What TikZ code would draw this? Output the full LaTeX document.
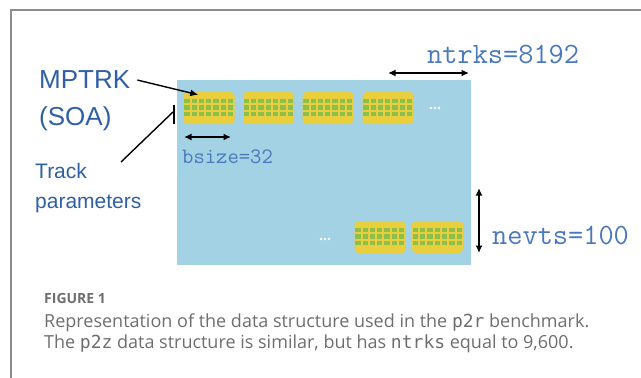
\documentclass[tikz,border=0pt]{standalone}
\usepackage{fontspec}
\setmainfont{Open Sans}
\newfontfamily\labelfont{Liberation Sans}
\newfontfamily\codefont{Latin Modern Mono}
\newfontfamily\capmono{DejaVu Sans Mono}
\usetikzlibrary{arrows.meta,calc}

\definecolor{framegray}{HTML}{8C8C8C}
\definecolor{panelblue}{HTML}{A2D2E4}
\definecolor{blkyellow}{HTML}{E9CE3E}
\definecolor{cellgreen}{HTML}{8DC04B}
\definecolor{labelblue}{HTML}{2F5FA6}
\definecolor{codeblue}{HTML}{4A78BE}
\definecolor{captiongray}{HTML}{6E6E6E}

\tikzset{
  blk/.style={fill=blkyellow, rounded corners=4pt, minimum width=51pt,
    minimum height=32pt, inner sep=0pt, draw=none},
  cell/.style={fill=cellgreen, draw=none},
  dimarrow/.style={draw=black, line width=1.6pt,
    {Latex[length=7.5pt,width=7pt]}-{Latex[length=7.5pt,width=7pt]}},
  ptr/.style={draw=black, line width=1.4pt},
  lbl/.style={text=labelblue, inner sep=0pt},
  code/.style={text=codeblue, inner sep=0pt},
  captxt/.style={anchor=base west, inner sep=0pt, text=captiongray},
  dotnode/.style={inner sep=0pt, minimum size=0pt},
}

% 3 x 7 grid of track-parameter cells inside a block
\newcommand\blockcells[1]{%
  \foreach \r in {0,1,2}
    \foreach \c in {0,...,6}
      \path[cell] ($(#1.north west)+(\c*7.3+0.9, 7+\r*6.6)$) rectangle ++(5.3,4.2);}

\begin{document}
\begin{tikzpicture}[x=1pt, y=-1pt]
  \useasboundingbox (0,0) rectangle (641,378);

  % outer frame (top and left rules)
  \draw[framegray, line width=2pt] (11,378) -- (11,10) -- (641,10);

  % the event/track panel
  \fill[panelblue] (177,80) rectangle (471,265);

  % MPTRK blocks: first row and last row
  \node[blk] (b1) at (209,108) {};
  \node[blk] (b2) at (268.5,108) {};
  \node[blk] (b3) at (328,108) {};
  \node[blk] (b4) at (388,108) {};
  \node[blk] (b5) at (380,237) {};
  \node[blk] (b6) at (437.5,237) {};
  \foreach \b in {b1,b2,b3,b4,b5,b6} {\blockcells{\b}}

  % ellipses
  \node[dotnode] (dtop) at (435,108) {};
  \node[dotnode] (dbot) at (325,239) {};
  \foreach \d in {-4,0,4} {
    \fill[white] ($(dtop)+(\d,0)$) circle (1.3);
    \fill[white] ($(dbot)+(\d,0)$) circle (1.3);
  }

  % labels
  \node[lbl, font=\labelfont\fontsize{26}{26}\selectfont, anchor=base west] (mptrk) at (39,88) {MPTRK};
  \node[lbl, font=\labelfont\fontsize{26}{26}\selectfont, anchor=base west] (soa) at (39,125) {(SOA)};
  \node[lbl, font=\labelfont\fontsize{21}{21}\selectfont, anchor=base west] (track) at (35,178) {Track};
  \node[lbl, font=\labelfont\fontsize{21}{21}\selectfont, anchor=base west] (params) at (35,208) {parameters};

  \node[code, font=\codefont\fontsize{29.5}{29.5}\selectfont, anchor=base west] (ntrks) at (427,63) {ntrks=8192};
  \node[code, font=\codefont\fontsize{22}{22}\selectfont, anchor=base west] (bsize) at (182,163) {bsize=32};
  \node[code, font=\codefont\fontsize{29.5}{29.5}\selectfont, anchor=base west] (nevts) at (492,244) {nevts=100};

  % pointers from the labels
  \coordinate (mtip) at ($(b1.north west)+(15,3)$);
  \draw[ptr, -{Latex[length=8pt,width=7pt]}] ($(mptrk.east)+(7,1)$) -- (mtip);
  \coordinate (bartop) at (174,105);
  \coordinate (barbot) at (174,124);
  \draw[ptr] (bartop) -- (barbot);
  \coordinate (tracktail) at (121,162);
  \coordinate (trackhead) at (173,112);
  \draw[ptr] (tracktail) -- (trackhead);

  % dimension arrows
  \coordinate (ta) at (388,73);
  \coordinate (tb) at (469,73);
  \draw[dimarrow] (ta) -- (tb);
  \coordinate (ba) at (184,137);
  \coordinate (bb) at (231,137);
  \draw[dimarrow] (ba) -- (bb);
  \coordinate (na) at (479,188);
  \coordinate (nb) at (479,253);
  \draw[dimarrow] (na) -- (nb);

  % caption
  \node[captxt, font=\fontsize{14}{14}\selectfont\bfseries] (fig) at (44,303) {FIGURE 1};
  \node[captxt, font=\fontsize{18}{18}\selectfont] (cap1) at (44,327)
        {Representation of the data structure used in the {\capmono p2r} benchmark.};
  \node[captxt, font=\fontsize{18}{18}\selectfont] (cap2) at (44,348)
        {The {\capmono p2z} data structure is similar, but has {\capmono ntrks} equal to 9,600.};
\end{tikzpicture}
\end{document}
